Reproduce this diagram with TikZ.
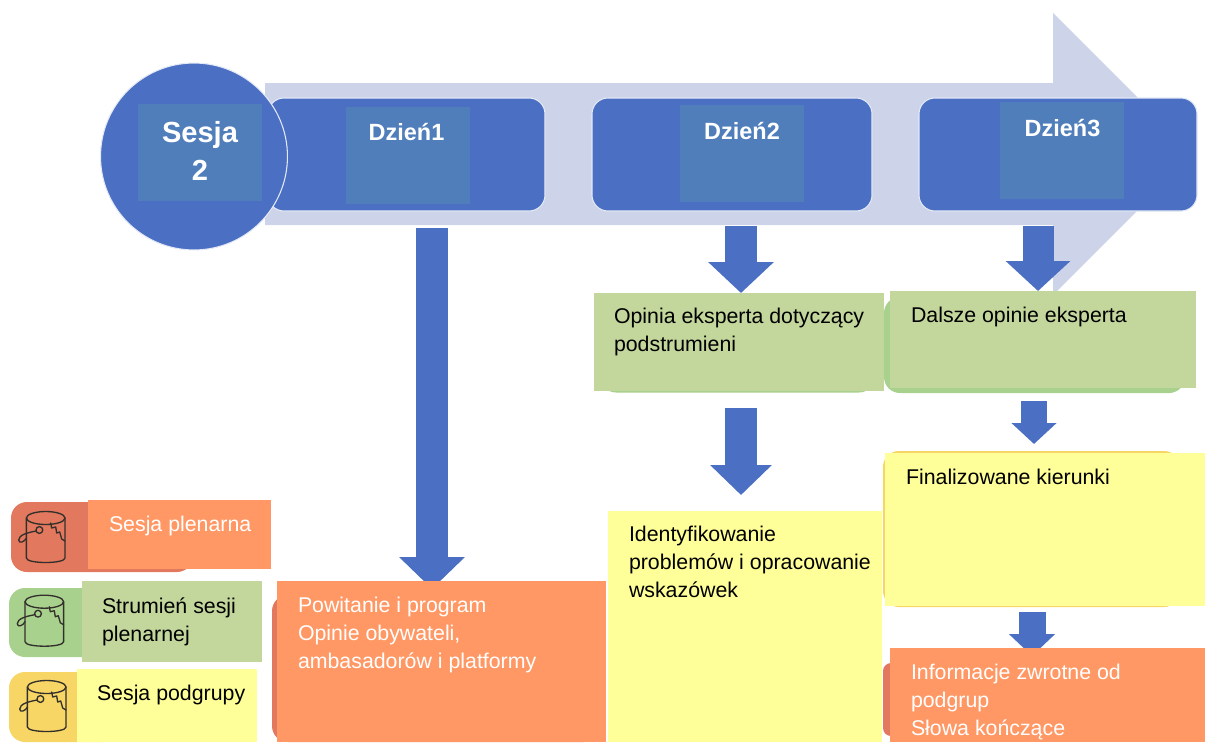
\documentclass[tikz,border=0pt]{standalone}
\usepackage{fontspec}
\setmainfont{Liberation Sans}
\usetikzlibrary{fit,arrows.meta}
\definecolor{mainblue}{HTML}{4A6FC3}
\definecolor{innerblue}{HTML}{4F7EBB}
\definecolor{bandblue}{HTML}{CDD4E9}
\definecolor{edgeblue}{HTML}{E4E9F6}
\definecolor{orangeb}{HTML}{FF9864}
\definecolor{redb}{HTML}{E2785D}
\definecolor{greenb}{HTML}{C3D69B}
\definecolor{greenr}{HTML}{A9D18E}
\definecolor{yellowb}{HTML}{FFFF99}
\definecolor{yellowr}{HTML}{F7D666}
\definecolor{bucketline}{HTML}{33302B}
\tikzset{
  x=0.75pt,y=-0.75pt,
  flat/.style={inner sep=0pt,outer sep=0pt,draw=none,rectangle},
  round/.style={flat,rounded corners=12pt},
  daybox/.style={round,fill=mainblue,draw=edgeblue,line width=0.8pt},
  inner/.style={flat,fill=innerblue},
  txt/.style={inner sep=0pt,outer sep=0pt,anchor=north west,align=left,font=\fontsize{16pt}{21pt}\selectfont},
  head/.style={inner sep=0pt,outer sep=0pt,anchor=center,align=center,text=white,font=\fontsize{17.6pt}{21pt}\selectfont\bfseries},
  blockarrow/.style n args={3}{draw=mainblue,line width=#1*0.75pt,
    -{Triangle[width=#2*0.75pt,length=#3*0.75pt,fill=mainblue]}},
  bucket/.pic={
    \begin{scope}[draw=bucketline,line width=1pt,line join=round,line cap=round]
      \draw (0,0) ellipse [x radius=19.3,y radius=6.5];
      \draw (-19.3,0) -- (-19.3,40) .. controls (-19.3,46) and (19.3,46) .. (19.3,40) -- (19.3,0);
      \draw (-6.3,12) circle [radius=3.4];
      \draw (-9.5,13) .. controls (-18,14.5) and (-27,17) .. (-27,22) .. controls (-27,26) and (-21,24) .. (-19.3,20);
      \draw (5,5) -- (6,10) -- (10,9) -- (11,15) -- (14,14) -- (16,21) -- (19.3,23);
    \end{scope}
  }
}
\begin{document}
\begin{tikzpicture}
\useasboundingbox (0,0) rectangle (1205,742);
% big background arrow
\fill[bandblue] (265,83) -- (1053,83) -- (1053,13) -- (1194,154) -- (1053,295) -- (1053,225) -- (265,225) -- cycle;
% day boxes
\node[daybox,fit={(268,98)(545,211)}] (d1) {};
\node[daybox,fit={(592,98)(872,211)}] (d2) {};
\node[daybox,fit={(919,98)(1197,211)}] (d3) {};
\node[circle,fill=mainblue,draw=edgeblue,line width=0.8pt,inner sep=0pt,minimum size=140.2pt] (ses) at (194,156.5) {};
\node[inner,fit={(138,104)(262,201)}] (sesin) {};
\node[inner,fit={(346,107)(470,204)}] (d1in) {};
\node[inner,fit={(680,105)(804,202)}] (d2in) {};
\node[inner,fit={(1000,102)(1124,199)}] (d3in) {};
\node[head,font=\fontsize{21.8pt}{29pt}\selectfont\bfseries] (sest) at (200,151) {Sesja\\2};
\node[head] (d1t) at (406.5,132) {Dzień1};
\node[head] (d2t) at (742,131) {Dzień2};
\node[head] (d3t) at (1062.5,128) {Dzień3};
% anchor points of the block arrows
\coordinate (a1s) at (432,228); \coordinate (a1e) at (432,589);
\coordinate (a2s) at (741,226); \coordinate (a2e) at (741,293);
\coordinate (a3s) at (1038,226); \coordinate (a3e) at (1038,291);
\coordinate (a4s) at (741,408); \coordinate (a4e) at (741,495);
\coordinate (a5s) at (1034,401); \coordinate (a5e) at (1034,444);
\coordinate (a6s) at (1032,612); \coordinate (a6e) at (1032,656);
\draw[blockarrow={32}{64}{32}] (a1s) -- (a1e);
\draw[blockarrow={32}{64}{31}] (a2s) -- (a2e);
\draw[blockarrow={31}{63}{30}] (a3s) -- (a3e);
\draw[blockarrow={32}{60}{30}] (a4s) -- (a4e);
\draw[blockarrow={26}{44}{21}] (a5s) -- (a5e);
\draw[blockarrow={27}{45}{22}] (a6s) -- (a6e);
% rounded boxes behind
\node[round,fill=greenr,fit={(600,297)(875,392.5)}] (g2r) {};
\node[round,fill=greenr,fit={(884,297)(1185,393)}] (g3r) {};
\node[round,fill=yellowr,fit={(883,451)(1180,607)}] (y3r) {};
\node[round,fill=redb,fit={(272,595)(600,742)}] (o1r) {};
\node[round,fill=redb,rounded corners=6pt,fit={(883,663)(1000,736)}] (o3r) {};
% flat boxes
\node[flat,fill=greenb,fit={(594,293)(884,391)}] (g2) {};
\node[flat,fill=greenb,fit={(890,291)(1196,388)}] (g3) {};
\node[flat,fill=yellowb,fit={(885,453)(1205,606)}] (y3) {};
\node[flat,fill=yellowb,fit={(608,511)(882,742)}] (y2) {};
\node[flat,fill=orangeb,fit={(277,581)(606,742)}] (o1) {};
\node[flat,fill=orangeb,fit={(890,648)(1205,742)}] (o3) {};
\node[txt] (g2t) at (614,308.5) {Opinia eksperta dotyczący\\podstrumieni};
\node[txt] (g3t) at (911,307) {Dalsze opinie eksperta};
\node[txt] (y3t) at (906,469) {Finalizowane kierunki};
\node[txt] (y2t) at (629,526) {Identyfikowanie\\problemów i opracowanie\\wskazówek};
\node[txt,text=white] (o1t) at (298,597) {Powitanie i program\\Opinie obywateli,\\ambasadorów i platformy};
\node[txt,text=white] (o3t) at (911,664) {Informacje zwrotne od\\podgrup\\Słowa kończące};
% legend
\node[round,fill=redb,fit={(11,502)(193,572)}] (l1r) {};
\node[round,fill=greenr,fit={(9,588)(120,657)}] (l2r) {};
\node[round,fill=yellowr,fit={(9,672)(120,742)}] (l3r) {};
\pic at (45.7,518) {bucket};
\pic at (44.3,601.7) {bucket};
\pic at (46.7,687) {bucket};
\node[flat,fill=orangeb,fit={(88,500)(271,569)}] (l1) {};
\node[flat,fill=greenb,fit={(82,581)(262,662)}] (l2) {};
\node[flat,fill=yellowb,fit={(77,669)(257,742)}] (l3) {};
\node[txt,text=white] (l1t) at (109,516) {Sesja plenarna};
\node[txt] (l2t) at (102,597.5) {Strumień sesji\\plenarnej};
\node[txt] (l3t) at (97,685) {Sesja podgrupy};
\end{tikzpicture}
\end{document}
